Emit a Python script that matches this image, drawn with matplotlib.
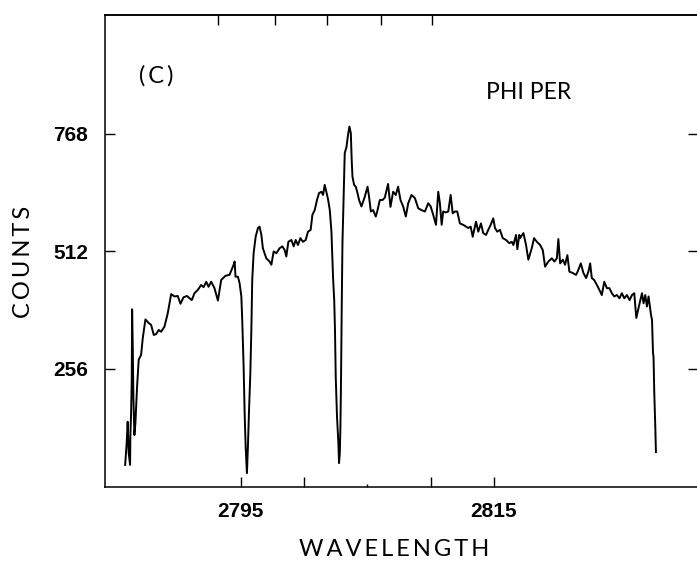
import matplotlib
matplotlib.use("Agg")
import numpy as np
from matplotlib import pyplot as plt

# spectrum (wavelength in A, counts)
wavelength = [
    2785.89, 2786.01, 2786.09, 2786.17, 2786.28, 2786.30, 2786.36, 2786.41, 2786.44, 2786.49,
    2786.54, 2786.62, 2786.70, 2786.83, 2786.96, 2787.15, 2787.28, 2787.49, 2787.75, 2787.94,
    2788.15, 2788.34, 2788.54, 2788.73, 2788.99, 2789.25, 2789.52, 2789.78, 2790.04, 2790.26,
    2790.49, 2790.76, 2790.97, 2791.15, 2791.36, 2791.62, 2791.89, 2792.08, 2792.29, 2792.47,
    2792.68, 2792.94, 2793.21, 2793.47, 2793.81, 2794.13, 2794.45, 2794.53, 2794.60, 2794.79,
    2794.92, 2795.06, 2795.13, 2795.24, 2795.32, 2795.40, 2795.50, 2795.58, 2795.66, 2795.77,
    2795.85, 2795.92, 2796.03, 2796.19, 2796.37, 2796.50, 2796.64, 2796.76, 2797.03, 2797.29,
    2797.43, 2797.61, 2797.82, 2798.08, 2798.30, 2798.48, 2798.61, 2798.77, 2799.01, 2799.19,
    2799.35, 2799.53, 2799.72, 2799.92, 2800.14, 2800.32, 2800.53, 2800.67, 2800.85, 2801.03,
    2801.19, 2801.38, 2801.51, 2801.64, 2801.77, 2801.90, 2802.04, 2802.17, 2802.30, 2802.39,
    2802.45, 2802.51, 2802.61, 2802.72, 2802.77, 2802.83, 2802.88, 2802.93, 2802.98, 2803.04,
    2803.14, 2803.22, 2803.36, 2803.48, 2803.59, 2803.70, 2803.77, 2803.83, 2803.96, 2804.09,
    2804.23, 2804.35, 2804.54, 2804.80, 2805.02, 2805.14, 2805.28, 2805.46, 2805.67, 2805.81,
    2805.99, 2806.20, 2806.38, 2806.64, 2806.83, 2807.04, 2807.25, 2807.43, 2807.62, 2807.83,
    2808.04, 2808.23, 2808.49, 2808.76, 2809.02, 2809.28, 2809.55, 2809.81, 2810.00, 2810.20,
    2810.42, 2810.60, 2810.73, 2810.87, 2810.99, 2811.21, 2811.39, 2811.58, 2811.74, 2811.92,
    2812.10, 2812.31, 2812.57, 2812.79, 2812.97, 2813.16, 2813.32, 2813.58, 2813.76, 2813.97,
    2814.15, 2814.37, 2814.55, 2814.74, 2814.94, 2815.08, 2815.26, 2815.47, 2815.69, 2815.95,
    2816.21, 2816.40, 2816.53, 2816.74, 2816.84, 2817.00, 2817.06, 2817.32, 2817.53, 2817.71,
    2817.98, 2818.16, 2818.38, 2818.64, 2818.85, 2819.03, 2819.29, 2819.56, 2819.77, 2819.96,
    2820.08, 2820.22, 2820.43, 2820.61, 2820.79, 2820.95, 2821.22, 2821.48, 2821.66, 2821.85,
    2822.06, 2822.27, 2822.45, 2822.59, 2822.72, 2822.90, 2823.12, 2823.32, 2823.51, 2823.70,
    2823.91, 2824.11, 2824.30, 2824.49, 2824.70, 2824.90, 2825.09, 2825.28, 2825.49, 2825.70,
    2825.89, 2826.07, 2826.23, 2826.49, 2826.68, 2826.80, 2826.94, 2827.07, 2827.20, 2827.39,
    2827.47, 2827.55, 2827.59, 2827.65, 2827.73, 2827.78,
]
counts = [
    47, 94, 141, 73, 47, 108, 160, 232, 386, 305,
    196, 112, 138, 217, 276, 287, 323, 364, 356, 352,
    330, 332, 341, 337, 348, 377, 419, 414, 415, 398,
    412, 415, 410, 406, 421, 428, 439, 434, 446, 435,
    446, 432, 405, 450, 459, 461, 483, 490, 457, 457,
    443, 414, 363, 261, 160, 87, 29, 87, 160, 247,
    341, 450, 508, 544, 563, 566, 548, 519, 497, 490,
    483, 512, 508, 519, 523, 515, 501, 533, 537, 523,
    537, 526, 541, 533, 537, 555, 559, 592, 602, 624,
    639, 642, 635, 657, 642, 626, 602, 555, 454, 406,
    341, 239, 152, 94, 51, 72, 130, 239, 385, 530,
    639, 726, 740, 766, 784, 770, 711, 675, 657, 653,
    639, 624, 610, 631, 653, 631, 599, 602, 588, 602,
    624, 624, 629, 659, 609, 642, 635, 653, 624, 610,
    588, 617, 635, 628, 606, 602, 599, 617, 610, 592,
    570, 642, 617, 570, 599, 597, 599, 635, 595, 599,
    599, 573, 570, 566, 563, 566, 544, 577, 555, 573,
    552, 548, 559, 570, 584, 563, 555, 559, 541, 537,
    530, 533, 526, 548, 517, 548, 541, 552, 526, 494,
    519, 541, 533, 526, 515, 479, 490, 497, 490, 497,
    539, 486, 494, 483, 504, 468, 465, 461, 472, 486,
    465, 454, 468, 486, 454, 450, 439, 428, 417, 446,
    432, 432, 421, 414, 417, 410, 421, 410, 417, 406,
    417, 421, 367, 399, 421, 399, 417, 392, 414, 374,
    363, 290, 283, 203, 130, 75,
]

y_ticks = [256, 512, 768]
x_ticks = [2795, 2800, 2810, 2815]
x_tick_labels = ["2795", "", "", "2815"]
x_minor = [2805]
top_ticks = [2793.2, 2797.7, 2801.8, 2806.1, 2810.1]

W, H = 697, 563
fig = plt.figure(figsize=(W / 100, H / 100), dpi=100)
ax = fig.add_axes([105 / W, (H - 486.5) / H, 593 / W, 471.5 / H])

ax.plot(wavelength, counts, color="black", lw=1.4)
ax.set_xlim(2784.3, 2831.1)
ax.set_ylim(0, 1027)

for spine in ax.spines.values():
    spine.set_linewidth(1.1)

tick_font = dict(family="Liberation Sans", weight="bold", size=15)
ax.set_yticks(y_ticks)
ax.set_yticklabels([str(v) for v in y_ticks], fontdict=tick_font)
ax.set_xticks(x_ticks)
ax.set_xticklabels(x_tick_labels, fontdict=tick_font)
ax.set_xticks(x_minor, minor=True)
ax.tick_params(axis="y", direction="in", length=7, width=1, pad=12, left=True, right=True)
ax.tick_params(axis="x", direction="in", length=7, width=1, pad=11, top=False)
ax.tick_params(axis="x", which="minor", direction="in", length=2, width=1, top=False)

top = ax.secondary_xaxis("top")
top.set_xticks(top_ticks)
top.set_xticklabels([])
top.tick_params(direction="in", length=7, width=1)
top.spines["top"].set_linewidth(1.1)


def spaced(s):
    return "\u2009".join(s)


label_font = dict(family=["Lato", "DejaVu Sans"], size=17, color="black")
fig.text(24 / W, 1 - 262 / H, spaced("COUNTS"), rotation=90, ha="center", va="center", **label_font)
fig.text(394 / W, 1 - 549 / H, spaced("WAVELENGTH"), ha="center", va="center", **label_font)
fig.text(156 / W, 1 - 76 / H, spaced("(C)"), ha="center", va="center", **label_font)
fig.text(529 / W, 1 - 92 / H, "PHI PER", ha="center", va="center", family="Lato", size=16.5)

fig.savefig("out.png", dpi=100)
